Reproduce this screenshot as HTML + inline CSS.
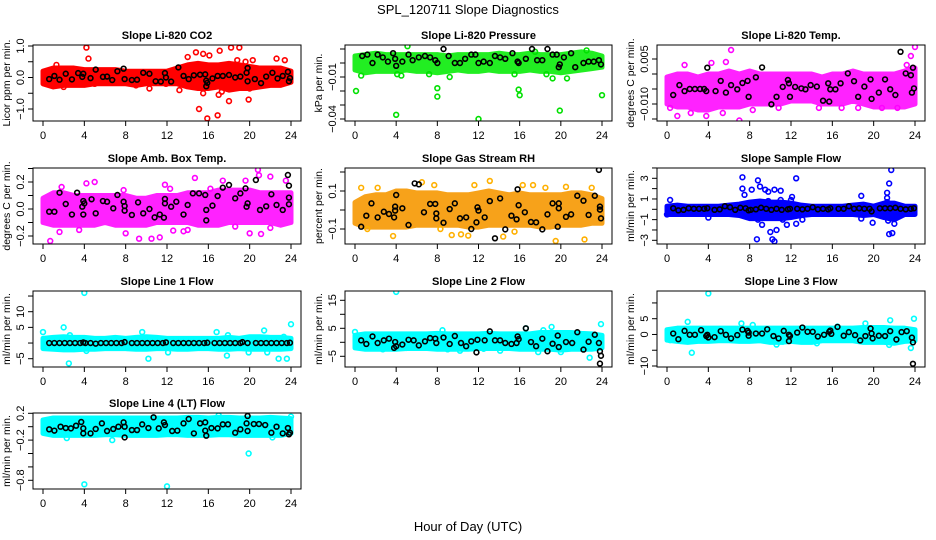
<!DOCTYPE html>
<html><head><meta charset="utf-8"><style>
html,body{margin:0;padding:0;background:#fff;}
svg{display:block;font-family:"Liberation Sans",sans-serif;}
</style></head><body>
<svg id="chart" width="936" height="540" viewBox="0 0 936 540">
<text x="468" y="14" text-anchor="middle" font-size="13">SPL_120711  Slope Diagnostics</text>
<text x="468" y="531" text-anchor="middle" font-size="13">Hour of Day (UTC)</text>
</svg>
<script>
const xTicks=[0,4,8,12,16,20,24];
const hours=[0,1,2,3,4,5,6,7,8,9,10,11,12,13,14,15,16,17,18,19,20,21,22,23,24];
// Panel 1 CO2
const lo1=[-0.2,-0.3,-0.25,-0.25,-0.25,-0.2,-0.2,-0.2,-0.2,-0.25,-0.2,-0.2,-0.2,-0.2,-0.3,-0.35,-0.35,-0.3,-0.4,-0.35,-0.35,-0.3,-0.25,-0.25,-0.15];
const hi1=[0.2,0.3,0.3,0.3,0.25,0.25,0.25,0.25,0.2,0.2,0.2,0.2,0.2,0.3,0.4,0.45,0.4,0.4,0.45,0.4,0.35,0.3,0.3,0.3,0.2];
const out1=[[4.2,0.95],[4.4,0.6],[1.3,0.4],[13.2,-0.4],[15.1,-1.0],[15.9,-1.3],[16.9,-1.2],[15.5,-0.5],[17,-0.55],[18,-0.75],[18.2,0.95],[19,0.95],[17.1,0.85],[14.8,0.8],[16.1,0.7],[19.9,-0.7],[20,-0.35],[22.6,0.6],[23.4,0.55],[18.8,0.55],[10.3,-0.35],[9,-0.25],[15.5,0.75],[19.6,0.5],[20.3,0.55],[2,-0.3],[14,0.65],[17.3,-0.45],[11.9,-0.2],[5,-0.2]];
const blk1=[[0.6,-0.05],[1.1,0.05],[1.6,-0.07],[2.2,0.12],[2.8,-0.06],[3.4,0.14],[3.8,0.02],[3.9,0.12],[4.6,-0.02],[5.1,0.25],[5.8,0.02],[6.2,0.03],[6.7,-0.08],[7.2,0.2],[7.8,0.28],[7.9,-0.05],[8.6,-0.08],[9.1,-0.07],[9.7,0.15],[10.3,0.12],[10.9,-0.12],[11.4,-0.13],[11.8,0.14],[11.9,0.0],[12.4,-0.13],[13.1,0.32],[13.6,0.05],[14.1,-0.05],[14.6,0.07],[15.2,0.09],[15.7,0.1],[15.8,-0.1],[15.8,-0.28],[15.9,-0.17],[16.4,-0.03],[16.9,0.05],[17.4,0.05],[18,0.08],[18.6,0.0],[19.1,0.03],[19.7,0.15],[19.8,0.3],[19.8,-0.12],[20.5,-0.05],[21.1,-0.18],[21.6,0.03],[22.2,0.15],[22.7,-0.03],[23.2,0.05],[23.7,0.18],[23.8,-0.12],[23.9,-0.02]];
const yt1=[1.0,0.5,0.0,-0.5,-1.0]; const yl1=["1.0","","0.0","","-1.0"];
// Panel 2 Pressure
const lo2=[-0.005,-0.007,-0.006,-0.006,-0.006,-0.005,-0.006,-0.006,-0.007,-0.006,-0.005,-0.006,-0.006,-0.005,-0.006,-0.006,-0.006,-0.005,-0.006,-0.006,-0.007,-0.006,-0.005,-0.004,-0.003];
const hi2=[0.005,0.006,0.007,0.006,0.006,0.006,0.006,0.006,0.006,0.005,0.006,0.006,0.006,0.006,0.007,0.006,0.006,0.007,0.006,0.006,0.006,0.007,0.008,0.007,0.005];
const out2=[[0.1,-0.02],[0.6,-0.009],[4,-0.037],[4.1,-0.008],[4.5,-0.009],[5.1,0.012],[8,-0.018],[8,-0.024],[9.2,-0.010],[12,-0.040],[15.9,-0.019],[16,-0.023],[19.9,-0.034],[19.2,-0.011],[20.6,-0.011],[24,-0.023],[7.2,-0.008],[17.5,0.008],[22.5,0.009],[15.5,-0.008],[18.6,-0.008]];
const blk2=[[0.7,0.005],[1.2,0.006],[1.7,0.0],[2.2,0.006],[2.7,0.004],[3.2,0.001],[3.7,0.007],[3.9,0.003],[4,-0.002],[4.6,0.001],[5.2,0.006],[5.6,0.002],[6.2,0.004],[6.8,0.005],[7.3,0.004],[7.8,0.002],[8,0.0],[8.6,0.010],[9.1,0.005],[9.7,0.0],[10.2,0.0],[10.7,0.003],[11.3,0.006],[11.7,0.006],[12,0.0],[12.5,0.001],[13.1,0.0],[13.6,0.005],[14.1,0.004],[14.6,0.003],[15.3,0.007],[15.8,0.001],[15.9,0.0],[16.6,0.003],[17.2,0.010],[17.7,0.002],[18.2,0.002],[18.7,0.010],[19.2,0.006],[19.6,0.006],[19.8,-0.003],[19.9,-0.001],[20.3,0.004],[21,0.007],[21.4,-0.003],[22.2,0.0],[22.7,0.001],[23.2,0.001],[23.7,0.002],[23.9,-0.001]];
const yt2=[0.01,0.0,-0.01,-0.02,-0.03,-0.04]; const yl2=["","","-0.01","","","-0.04"];
// Panel 3 Li-820 Temp
const lo3=[-0.010,-0.011,-0.011,-0.012,-0.012,-0.011,-0.011,-0.011,-0.010,-0.010,-0.010,-0.010,-0.009,-0.009,-0.009,-0.010,-0.010,-0.010,-0.009,-0.010,-0.011,-0.011,-0.011,-0.011,-0.010];
const hi3=[-0.001,0.000,0.000,-0.001,0.000,0.000,0.001,0.000,0.001,0.000,0.000,0.000,0.000,0.000,0.000,-0.001,0.000,0.000,0.001,0.000,0.000,0.000,0.000,0.001,0.002];
const out3=[[6.2,0.008],[24,0.009],[23.6,0.006],[0.3,-0.0113],[1,-0.014],[3.8,-0.014],[7,-0.0155],[5.4,-0.013],[1.7,0.003],[4.3,0.0037],[5.7,0.004],[8.3,-0.012],[10.8,-0.0113],[14.7,-0.0113],[16.9,-0.0113],[18.5,-0.0113],[20.8,-0.0113],[22.3,-0.0113],[23.2,0.003],[2.3,-0.013]];
const blk3=[[0.6,-0.007],[1.2,-0.0037],[1.7,-0.0057],[2.2,-0.005],[2.7,-0.005],[3.2,-0.005],[3.6,-0.005],[3.8,-0.0057],[3.9,0.0021],[4.7,-0.0057],[5.2,-0.0023],[5.7,-0.0062],[6.2,-0.0037],[6.8,-0.0051],[7.3,-0.003],[7.8,-0.0023],[7.9,-0.0076],[8.6,-0.0011],[9.2,0.0022],[10.1,-0.0101],[10.6,-0.0076],[11.2,-0.0043],[11.7,-0.002],[11.8,-0.0031],[11.9,-0.0076],[12.4,-0.0043],[13.0,-0.0048],[13.4,-0.0051],[13.9,-0.0037],[14.5,-0.0042],[15.1,-0.0089],[15.6,-0.0031],[15.7,-0.0092],[15.8,-0.0051],[16.3,-0.0051],[16.8,-0.0031],[17.5,0.0002],[18.1,-0.0024],[18.5,-0.0076],[19.1,-0.0042],[19.7,-0.0018],[19.8,-0.0083],[20.5,-0.0062],[21.1,-0.0018],[21.6,-0.0051],[22.1,-0.007],[22.6,0.0074],[23.1,0.0002],[23.6,-0.0004],[23.7,-0.0062],[23.8,0.0021],[23.9,-0.0048]];
const yt3=[0.005,0.0,-0.005,-0.010,-0.015]; const yl3=["0.005","","","-0.010",""];
// Panel 4 Amb Box Temp
const lo4=[-0.1,-0.12,-0.12,-0.12,-0.12,-0.12,-0.1,-0.12,-0.12,-0.12,-0.12,-0.1,-0.1,-0.1,-0.1,-0.12,-0.12,-0.12,-0.1,-0.1,-0.1,-0.1,-0.1,-0.12,-0.1];
const hi4=[0.08,0.12,0.12,0.1,0.1,0.1,0.1,0.1,0.1,0.08,0.08,0.1,0.1,0.1,0.12,0.12,0.12,0.14,0.14,0.14,0.14,0.12,0.12,0.12,0.12];
const out4=[[0.7,-0.237],[1.6,-0.17],[1.8,0.163],[4.2,0.19],[5,0.2],[7.8,0.14],[9.3,-0.22],[10.5,-0.22],[11.3,-0.21],[11.8,0.18],[12.3,0.15],[14.7,0.23],[16.2,0.15],[17.4,0.21],[18.6,-0.13],[19.6,0.21],[20,-0.18],[20.8,0.29],[20.9,0.25],[21.1,-0.185],[22,0.24],[23.5,0.21],[8,-0.18],[3.5,-0.155],[14,-0.155],[12.6,-0.16],[13.6,-0.165],[22,-0.14]];
const blk4=[[0.6,-0.02],[1.1,-0.02],[1.6,0.121],[2.2,0.037],[2.8,-0.041],[3.3,0.121],[3.8,0.017],[3.9,0.059],[3.9,-0.041],[4.0,0.042],[4.7,0.072],[5.1,-0.032],[5.8,0.059],[6.2,0.054],[6.8,0.005],[7.2,0.104],[7.8,0.054],[7.9,0.022],[7.9,-0.012],[8.6,-0.044],[9.2,0.049],[9.7,-0.032],[10.3,0.0],[10.8,-0.062],[11.3,-0.041],[11.7,-0.064],[11.8,0.042],[11.8,0.074],[12.4,0.017],[12.9,0.054],[13.6,-0.041],[14.0,0.03],[14.5,0.116],[15.1,0.116],[15.7,0.104],[15.8,-0.007],[15.8,-0.084],[16.4,0.025],[16.9,0.096],[17.4,0.158],[18,0.178],[18.6,0.079],[19.1,0.116],[19.6,0.153],[19.7,0.017],[19.8,0.042],[20.6,0.215],[21,-0.007],[21.6,0.02],[22.1,0.109],[22.6,0.03],[23.2,-0.007],[23.7,0.252],[23.8,0.173],[23.8,0.084],[23.8,0.035]];
const yt4=[0.3,0.2,0.1,0.0,-0.1,-0.2]; const yl4=["","0.2","","0.0","","-0.2"];
// Panel 5 Gas Stream RH
const lo5=[-0.07,-0.09,-0.09,-0.09,-0.09,-0.09,-0.08,-0.08,-0.08,-0.08,-0.08,-0.09,-0.09,-0.08,-0.08,-0.08,-0.08,-0.08,-0.09,-0.09,-0.08,-0.08,-0.08,-0.07,-0.07];
const hi5=[0.04,0.07,0.08,0.08,0.1,0.1,0.09,0.09,0.09,0.08,0.08,0.08,0.09,0.1,0.09,0.08,0.09,0.08,0.08,0.08,0.08,0.09,0.09,0.08,0.06];
const out5=[[0.6,0.117],[2.2,0.117],[3.7,-0.137],[6.5,0.146],[7.7,0.131],[9.4,-0.132],[10.3,-0.128],[11.0,-0.135],[11.6,0.131],[13.1,0.153],[14.4,-0.14],[16.3,0.131],[17.3,0.131],[19.5,-0.163],[20.5,0.122],[22.3,-0.155],[23,0.117],[18.5,0.117],[15.5,-0.114],[8.3,-0.1],[1.2,-0.1]];
const blk5=[[0.6,-0.088],[1.1,-0.030],[1.6,0.035],[2.2,-0.039],[2.8,-0.009],[3.3,-0.021],[3.8,-0.039],[3.9,0.018],[3.9,-0.003],[4.0,0.079],[4.6,0.009],[5.2,-0.079],[5.8,0.140],[6.2,0.135],[6.7,-0.012],[7.3,0.032],[7.8,0.032],[7.9,-0.018],[7.9,-0.044],[8.6,-0.067],[9.2,0.005],[9.7,0.035],[10.2,-0.044],[10.8,-0.039],[11.3,-0.1],[11.8,-0.065],[11.9,0.014],[12.0,-0.003],[12.6,-0.039],[13.1,0.047],[13.6,-0.149],[14.1,0.061],[14.6,-0.102],[15.2,-0.030],[15.7,-0.049],[15.8,0.109],[15.9,0.025],[16.5,-0.012],[17.1,-0.063],[17.6,-0.065],[18.2,-0.102],[18.7,-0.023],[19.2,0.035],[19.7,-0.088],[19.8,0.035],[19.8,0.009],[20.5,-0.036],[21.0,-0.023],[21.6,0.075],[22.2,0.049],[22.7,-0.026],[23.3,0.075],[23.7,0.211],[23.8,0.018],[23.9,-0.044],[23.8,0.002]];
const yt5=[0.2,0.1,0.0,-0.1]; const yl5=["","0.1","","-0.1"];
// Panel 6 Sample Flow
const lo6=[-0.5,-0.5,-0.5,-0.5,-0.5,-0.5,-0.5,-0.6,-0.9,-0.9,-0.9,-0.9,-0.8,-0.6,-0.5,-0.5,-0.5,-0.5,-0.5,-0.6,-0.5,-0.8,-1.0,-0.5,-0.5];
const hi6=[0.3,0.4,0.3,0.3,0.3,0.3,0.4,0.5,0.7,0.8,0.7,0.7,0.6,0.4,0.3,0.3,0.3,0.3,0.4,0.5,0.3,0.6,0.6,0.3,0.3];
const out6=[[0.3,0.9],[0,-0.5],[4.0,-0.8],[7.3,3.1],[7.3,2.0],[7.5,1.4],[8.2,1.9],[8.7,-2.9],[8.8,2.8],[8.8,-1.0],[9.0,2.2],[9.2,-1.5],[9.5,1.9],[9.8,1.7],[10.0,-2.2],[10.2,-2.9],[10.4,-3.1],[10.4,1.9],[10.6,-2.0],[10.2,0.6],[11.0,1.8],[11.2,-1.0],[11.6,-1.5],[12.0,0.9],[12.1,1.2],[12.5,-1.4],[12.5,3.0],[13.1,-1.0],[18.8,1.3],[18.8,-0.9],[19.9,-1.3],[21.3,1.6],[21.3,1.1],[21.4,-1.1],[21.5,-2.4],[21.5,2.5],[21.7,3.8],[21.8,-2.3],[22.0,-1.4],[22.2,-0.7],[9.8,0.8],[11.0,0.9],[10.7,-0.8],[21.3,0.7],[21.6,-0.6]];
const blk6=[[0.6,0.1],[1.1,-0.1],[1.6,-0.05],[2.1,0.1],[2.6,0.05],[3.1,0.05],[3.6,0.05],[3.9,0.1],[4.6,-0.05],[5.1,0.0],[5.6,0.3],[6.1,0.2],[6.6,-0.05],[7.1,0.15],[7.6,0.1],[7.9,-0.1],[8.1,-0.05],[8.6,0.0],[9.1,0.15],[9.6,0.05],[10.1,-0.05],[10.6,0.05],[11.1,-0.05],[11.7,0.0],[11.9,0.05],[12.6,0.05],[13.1,0.0],[13.6,0.05],[14.1,0.2],[14.6,0.0],[15.1,0.05],[15.6,0.0],[15.8,0.1],[16.6,0.05],[17.1,0.05],[17.6,0.3],[18.1,0.05],[18.6,0.1],[19.1,0.05],[19.6,0.05],[19.8,-0.2],[20.6,0.1],[21.1,0.1],[21.6,0.1],[22.1,0.15],[22.6,0.05],[23.1,0.0],[23.6,0.05],[23.9,0.1]];
const yt6=[4,3,2,1,0,-1,-2,-3]; const yl6=["","3","","1","","-1","","-3"];
// Panel 7 Line 1 Flow
const lo7=[-1.8,-2,-2.2,-2.2,-2,-2,-1.8,-1.8,-1.8,-2,-2,-1.8,-1.8,-2,-2,-1.8,-1.8,-2,-2,-1.8,-2,-2,-2,-2,-1.8];
const hi7=[1.5,1.8,2,1.8,1.8,1.5,1.5,1.8,1.5,1.8,2,1.8,1.5,1.5,1.5,1.5,1.5,1.5,1.8,1.5,2,2,1.8,1.8,1.5];
const out7=[[4.0,16],[0,3.5],[2,5],[2.5,-6.5],[2.6,2.5],[1.8,-1.5],[9.6,3.5],[10.2,-5],[16.8,3.5],[17.8,-4],[17.9,2.5],[21.4,4],[21.7,-3],[22.8,-5],[23.6,-5],[24,6],[19.9,-3],[12.1,-3],[4.2,-2.5],[23.3,2]];
const blk7=[[0.6,0],[1.1,0],[1.6,0],[2.1,0],[2.6,0],[3.1,0],[3.6,0],[3.9,0.2],[4.1,0],[4.6,0],[5.1,-0.2],[5.6,0],[6.1,0],[6.6,0],[7.1,0],[7.6,0],[7.9,0.3],[8.6,0],[9.1,0],[9.6,0],[10.1,0],[10.6,0],[11.1,0],[11.6,0],[11.9,0.2],[12.6,0],[13.1,0],[13.6,0],[14.1,0],[14.6,0],[15.1,0],[15.6,0],[15.9,0.1],[16.6,0],[17.1,0],[17.6,0],[18.1,0],[18.6,0],[19.1,0],[19.3,0.3],[19.8,0],[20.6,0],[21.1,0],[21.6,0],[22.1,0],[22.6,0],[23.1,0],[23.6,0],[23.9,0.1]];
const yt7=[15,10,5,0,-5]; const yl7=["","10","5","","-5"];
// Panel 8 Line 2 Flow
const lo8=[-2,-2.5,-2.5,-2.5,-2.5,-2.2,-2.2,-2.2,-2.5,-2.5,-2.5,-2.5,-2.2,-2.2,-2.2,-2.2,-2.5,-2.5,-2.5,-2.5,-2.8,-2.5,-2.5,-2.5,-2];
const hi8=[2.5,3,3,3,3,3,3,3,3.2,3,3,3,3,3.2,3,3,3,3,3.5,3.5,3.5,3.5,3.2,3,2.5];
const out8=[[4,18],[0,3.7],[23.9,6.5],[22.8,-5.5],[19.1,5.5],[16.6,5],[8.5,4.3],[17.8,-3.5],[14.1,-3],[9.0,-2.5],[2.7,-2.5],[5,-2],[10.2,-3],[20,-3.5],[12.5,-2.3],[18.3,4.3]];
const blk8=[[0.6,0.7],[1.1,-0.6],[1.7,2.1],[2.2,-0.25],[2.8,0.7],[3.3,1.3],[3.8,-2.0],[3.9,0.1],[4.0,-1.4],[4.6,-0.8],[5.2,0.9],[5.7,0.7],[6.2,-1.1],[6.8,0.35],[7.3,1.5],[7.8,1.3],[7.9,-0.25],[8.6,1.7],[9.2,-0.6],[9.7,2.25],[10.3,-0.25],[10.8,-1.4],[11.3,0.35],[11.8,-3.6],[11.9,0.9],[12.6,0.7],[13.1,3.9],[13.6,0.7],[14.1,0.7],[14.6,-0.25],[15.2,-0.6],[15.7,-0.25],[15.8,2.1],[15.9,1.15],[16.6,5.0],[17.1,0.1],[17.6,-1.4],[18.2,1.3],[18.7,-3.2],[19.2,-0.5],[19.7,2.4],[19.8,-1.7],[20.5,0.1],[21.1,-0.25],[21.6,3.6],[22.2,-2.6],[22.7,0.2],[23.3,2.7],[23.7,-0.25],[23.8,-3.2],[23.9,-4.8],[23.8,-7.6]];
const yt8=[15,10,5,0,-5]; const yl8=["15","","5","","-5"];
// Panel 9 Line 3 Flow
const lo9=[-1.8,-2.2,-2.5,-2.2,-2.2,-2,-2,-2.2,-2.2,-2,-2.5,-2.5,-2.2,-2.5,-2.5,-2,-2,-2,-2,-2.5,-2.5,-2.5,-2.8,-2.2,-2];
const hi9=[1.5,2,2,2,2,2,2,2,2,2,2,2,2,2,2,2,2,2,2,2.2,2.2,2.2,2,2,1.5];
const out9=[[4,13],[2,4],[2.4,-5.8],[7.2,3.5],[8.3,3],[16.5,2.5],[19.2,3.5],[21.6,4.5],[23.9,5],[23.6,-4.3],[10.6,-3.2],[21.5,-3.3],[0.3,-1.8],[11.2,-2.3],[14.5,-2.8]];
const blk9=[[0.6,0.3],[1.1,-1.5],[1.7,1.15],[2.2,-0.1],[2.7,-0.1],[3.3,1.35],[3.8,-0.5],[3.9,-0.1],[4.0,-0.95],[4.6,-0.85],[5.2,1.05],[5.7,-0.1],[6.2,-1.25],[6.8,-0.2],[7.3,1.55],[7.8,1.15],[7.9,-0.4],[7.9,0.6],[8.6,0.3],[9.2,0.3],[9.7,1.65],[10.3,-0.5],[10.8,-1.25],[11.3,1.15],[11.8,-0.1],[11.8,-2.1],[11.9,-0.5],[12.6,0.6],[13.1,2.2],[13.6,0.85],[14.1,0.85],[14.6,-0.65],[15.2,-0.1],[15.7,0.85],[15.8,1.25],[15.9,0.2],[16.5,2.4],[17.1,-0.4],[17.6,0.75],[18.2,-0.2],[18.7,-1.9],[19.2,-0.5],[19.7,1.9],[19.8,0.3],[19.9,-1.25],[20.5,-0.4],[21.1,-0.5],[21.6,1.05],[22.2,-1.6],[22.7,0.75],[23.2,1.05],[23.7,-1.0],[23.8,-2.5],[23.8,-9.3]];
const yt9=[10,5,0,-5,-10]; const yl9=["","5","0","","-10"];
// Panel 10 Line 4 (LT) Flow
const lo10=[-0.1,-0.13,-0.13,-0.13,-0.13,-0.13,-0.12,-0.12,-0.13,-0.13,-0.13,-0.13,-0.12,-0.12,-0.13,-0.13,-0.13,-0.12,-0.12,-0.13,-0.13,-0.13,-0.13,-0.13,-0.1];
const hi10=[0.1,0.13,0.13,0.13,0.13,0.13,0.13,0.13,0.13,0.13,0.13,0.13,0.13,0.13,0.14,0.14,0.13,0.14,0.14,0.13,0.13,0.13,0.14,0.13,0.12];
const out10=[[4,-0.86],[12,-0.89],[19.9,-0.4],[2.3,-0.17],[6.7,-0.2],[22.2,-0.16],[24,0.15],[17,0.17],[0.5,0.05]];
const blk10=[[0.6,-0.039],[1.1,-0.059],[1.7,0.0],[2.2,-0.02],[2.7,-0.025],[3.2,0.015],[3.7,0.07],[3.9,-0.025],[3.9,-0.1],[4.6,-0.1],[5.1,-0.034],[5.7,0.05],[6.2,-0.064],[6.8,-0.034],[7.3,0.0],[7.8,0.065],[7.9,0.0],[7.9,-0.16],[8.6,-0.05],[9.1,-0.05],[9.6,0.035],[10.2,-0.02],[10.7,0.14],[11.2,-0.025],[11.7,0.065],[11.8,0.025],[12.5,-0.064],[13.0,-0.059],[13.6,0.05],[14.1,0.115],[14.6,-0.1],[15.2,0.05],[15.7,0.065],[15.7,-0.059],[15.8,-0.134],[16.3,-0.02],[16.9,-0.025],[17.4,0.035],[17.9,0.035],[18.6,-0.09],[19.1,-0.039],[19.7,0.05],[19.8,0.16],[19.8,-0.064],[20.4,0.04],[20.9,0.04],[21.5,0.025],[22.1,-0.09],[22.6,0.0],[23.2,-0.1],[23.7,-0.02],[23.8,-0.114],[23.9,-0.09]];
const yt10=[0.2,0.0,-0.2,-0.4,-0.6,-0.8]; const yl10=["0.2","","-0.2","","","-0.8"];

const NS="http://www.w3.org/2000/svg";
const svg=document.getElementById('chart');
function mk(tag,attrs,parent){const e=document.createElementNS(NS,tag);for(const k in attrs)e.setAttribute(k,attrs[k]);(parent||svg).appendChild(e);return e;}

const cols=[[33,301],[345,612],[657,925]];
const rows=[[45,121],[168,244],[291,367],[413,489]];
const panels=[
 {id:'co2',title:'Slope Li-820 CO2',ylab:'Licor ppm per min.',c:0,r:0,v1:1.0,p1:46,v2:-1.0,p2:109,lo:lo1,hi:hi1,out:out1,blk:blk1,yt:yt1,yl:yl1,color:'#ff0000',band:'#ff0000'},
 {id:'pressure',title:'Slope Li-820 Pressure',ylab:'kPa per min.',c:1,r:0,v1:0.01,p1:49,v2:-0.04,p2:119,lo:lo2,hi:hi2,out:out2,blk:blk2,yt:yt2,yl:yl2,color:'#00e000',band:'#22ee22'},
 {id:'li820-temp',title:'Slope Li-820 Temp.',ylab:'degrees C per min.',c:2,r:0,v1:0.005,p1:59,v2:-0.010,p2:104,lo:lo3,hi:hi3,out:out3,blk:blk3,yt:yt3,yl:yl3,color:'#ff00ff',band:'#ff22ff'},
 {id:'amb-box-temp',title:'Slope Amb. Box Temp.',ylab:'degrees C per min.',c:0,r:1,v1:0.2,p1:182,v2:-0.2,p2:236,lo:lo4,hi:hi4,out:out4,blk:blk4,yt:yt4,yl:yl4,color:'#ff00ff',band:'#ff22ff'},
 {id:'gas-stream-rh',title:'Slope Gas Stream RH',ylab:'percent per min.',c:1,r:1,v1:0.1,p1:191,v2:-0.1,p2:229,lo:lo5,hi:hi5,out:out5,blk:blk5,yt:yt5,yl:yl5,color:'#ffb000',band:'#f7a21a'},
 {id:'sample-flow',title:'Slope Sample Flow',ylab:'ml/min per min.',c:2,r:1,v1:3,p1:178.3,v2:-3,p2:240.3,lo:lo6,hi:hi6,out:out6,blk:blk6,yt:yt6,yl:yl6,color:'#0000ff',band:'#0000ff'},
 {id:'line1-flow',title:'Slope Line 1 Flow',ylab:'ml/min per min.',c:0,r:2,v1:10,p1:311.7,v2:-5,p2:358.7,lo:lo7,hi:hi7,out:out7,blk:blk7,yt:yt7,yl:yl7,color:'#00ffff',band:'#00ffff'},
 {id:'line2-flow',title:'Slope Line 2 Flow',ylab:'ml/min per min.',c:1,r:2,v1:15,p1:300.3,v2:-5,p2:356.3,lo:lo8,hi:hi8,out:out8,blk:blk8,yt:yt8,yl:yl8,color:'#00ffff',band:'#00ffff'},
 {id:'line3-flow',title:'Slope Line 3 Flow',ylab:'ml/min per min.',c:2,r:2,v1:5,p1:318.7,v2:-10,p2:366,lo:lo9,hi:hi9,out:out9,blk:blk9,yt:yt9,yl:yl9,color:'#00ffff',band:'#00ffff'},
 {id:'line4-flow',title:'Slope Line 4 (LT) Flow',ylab:'ml/min per min.',c:0,r:3,v1:0.2,p1:413.3,v2:-0.8,p2:480.3,lo:lo10,hi:hi10,out:out10,blk:blk10,yt:yt10,yl:yl10,color:'#00ffff',band:'#00ffff'}
];

panels.forEach(P=>{
  const [L,R]=cols[P.c],[T,B]=rows[P.r];
  const xs=h=>(L+10)+(h/24)*(R-L-20);
  const ys=v=>P.p1+(v-P.v1)*(P.p2-P.p1)/(P.v2-P.v1);
  const g=mk('g',{});
  
  
  const cid='clip-'+P.id;
  const cp=mk('clipPath',{id:cid},g);mk('rect',{x:L,y:T,width:R-L,height:B-T},cp);
  const t=mk('text',{x:(L+R)/2,y:T-6,'text-anchor':'middle','font-size':'11','font-weight':'bold'},g);
  t.textContent=P.title;
  
  
  const plot=mk('g',{'clip-path':'url(#'+cid+')'},g);
  // band
  let pts=hours.map((h,i)=>xs(h)+','+ys(P.hi[i]));
  pts=pts.concat(hours.slice().reverse().map((h,j)=>xs(h)+','+ys(P.lo[hours.length-1-j])));
  const band=mk('polygon',{points:pts.join(' '),fill:P.band,stroke:P.band,'stroke-width':5,'stroke-linejoin':'round'},plot);
  
  
  P.out.forEach(p=>{
    const c=mk('circle',{cx:xs(p[0]),cy:ys(p[1]),r:2.4,fill:'none',stroke:P.color,'stroke-width':1.6},plot);
    
    
  });
  P.blk.forEach(p=>{
    const c=mk('circle',{cx:xs(p[0]),cy:ys(p[1]),r:2.4,fill:'none',stroke:'#000','stroke-width':1.6},plot);
    
    
  });
  const box=mk('rect',{x:L,y:T,width:R-L,height:B-T,fill:'none',stroke:'#000','stroke-width':1},g);
  
  
  // x axis
  mk('line',{x1:xs(0),y1:B,x2:xs(24),y2:B,stroke:'#000'},g);
  xTicks.forEach(h=>{
    mk('line',{x1:xs(h),y1:B,x2:xs(h),y2:B+5,stroke:'#000'},g);
    const l=mk('text',{x:xs(h),y:B+18,'text-anchor':'middle','font-size':'11'},g);
    l.textContent=h;
    
    
  });
  // y axis
  mk('line',{x1:L,y1:ys(P.yt[0]),x2:L,y2:ys(P.yt[P.yt.length-1]),stroke:'#000'},g);
  P.yt.forEach((v,i)=>{
    const y=ys(v);
    mk('line',{x1:L-5,y1:y,x2:L,y2:y,stroke:'#000'},g);
    if(P.yl[i]){
      const l=mk('text',{x:L-9,y:y,'text-anchor':'middle','font-size':'11',transform:'rotate(-90 '+(L-9)+' '+y+')'},g);
      l.textContent=P.yl[i].replace('-','\u2212');
      
      
    }
  });
  const yc=(T+B)/2, yx=L-23;
  const yl=mk('text',{x:yx,y:yc,'text-anchor':'middle','font-size':'10.5',transform:'rotate(-90 '+yx+' '+yc+')'},g);
  yl.textContent=P.ylab;
  
  
});
</script>
</body></html>
